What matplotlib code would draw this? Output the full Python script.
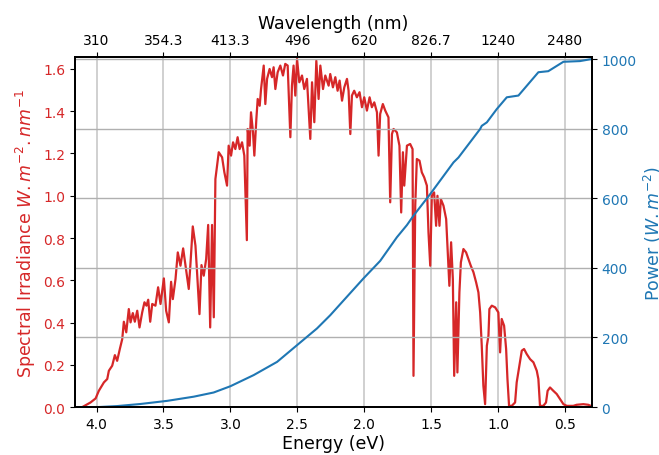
import numpy as np
import matplotlib
matplotlib.use('Agg')
import matplotlib.pyplot as plt

# spectrum (energy in eV, irradiance in W/m2/nm)
energy_ev = [4.160, 4.107, 4.045, 4.007, 3.983, 3.945, 3.920, 3.908, 3.883, 3.863,
             3.846, 3.826, 3.808, 3.796, 3.778, 3.759, 3.746, 3.729, 3.714, 3.696,
             3.679, 3.659, 3.642, 3.627, 3.614, 3.599, 3.584, 3.560, 3.540, 3.522,
             3.497, 3.480, 3.460, 3.443, 3.430, 3.410, 3.393, 3.373, 3.353, 3.336,
             3.311, 3.299, 3.281, 3.261, 3.249, 3.231, 3.216, 3.199, 3.181, 3.166,
             3.151, 3.137, 3.124, 3.112, 3.087, 3.062, 3.045, 3.025, 3.013, 2.995,
             2.980, 2.963, 2.946, 2.931, 2.913, 2.896, 2.877, 2.871, 2.856, 2.846,
             2.831, 2.821, 2.806, 2.796, 2.781, 2.771, 2.751, 2.739, 2.726, 2.707,
             2.689, 2.677, 2.664, 2.647, 2.627, 2.607, 2.590, 2.572, 2.552, 2.540,
             2.528, 2.515, 2.502, 2.485, 2.465, 2.448, 2.428, 2.403, 2.390, 2.373,
             2.358, 2.341, 2.328, 2.308, 2.291, 2.266, 2.254, 2.234, 2.216, 2.199,
             2.184, 2.166, 2.149, 2.129, 2.117, 2.104, 2.092, 2.075, 2.055, 2.035,
             2.017, 2.000, 1.980, 1.960, 1.943, 1.925, 1.905, 1.893, 1.881, 1.861,
             1.843, 1.819, 1.806, 1.793, 1.781, 1.756, 1.737, 1.724, 1.711, 1.701,
             1.681, 1.657, 1.639, 1.632, 1.619, 1.607, 1.587, 1.570, 1.552, 1.532,
             1.520, 1.507, 1.495, 1.478, 1.463, 1.453, 1.438, 1.428, 1.408, 1.388,
             1.376, 1.364, 1.351, 1.338, 1.328, 1.313, 1.304, 1.289, 1.278, 1.259,
             1.239, 1.222, 1.204, 1.184, 1.164, 1.147, 1.134, 1.122, 1.110, 1.097,
             1.084, 1.072, 1.065, 1.047, 1.022, 0.998, 0.985, 0.973, 0.955, 0.940,
             0.930, 0.918, 0.898, 0.873, 0.861, 0.841, 0.823, 0.806, 0.786, 0.761,
             0.736, 0.711, 0.699, 0.687, 0.662, 0.642, 0.630, 0.612, 0.587, 0.562,
             0.537, 0.512, 0.487, 0.438, 0.413, 0.363, 0.326, 0.308]
irradiance = [0.000, 0.000, 0.022, 0.041, 0.077, 0.117, 0.133, 0.172, 0.196, 0.246,
              0.219, 0.275, 0.322, 0.404, 0.354, 0.464, 0.401, 0.445, 0.404, 0.456,
              0.377, 0.448, 0.496, 0.480, 0.508, 0.404, 0.488, 0.480, 0.567, 0.488,
              0.609, 0.456, 0.401, 0.593, 0.511, 0.606, 0.732, 0.669, 0.751, 0.672,
              0.559, 0.672, 0.855, 0.764, 0.638, 0.440, 0.672, 0.622, 0.701, 0.862,
              0.377, 0.862, 0.425, 1.079, 1.206, 1.182, 1.111, 1.048, 1.237, 1.190,
              1.253, 1.221, 1.277, 1.221, 1.253, 1.190, 0.790, 1.316, 1.237, 1.395,
              1.300, 1.190, 1.363, 1.458, 1.426, 1.505, 1.616, 1.434, 1.553, 1.600,
              1.561, 1.608, 1.505, 1.584, 1.616, 1.569, 1.624, 1.616, 1.277, 1.521,
              1.616, 1.474, 1.647, 1.537, 1.569, 1.505, 1.553, 1.269, 1.537, 1.348,
              1.639, 1.458, 1.616, 1.505, 1.569, 1.521, 1.576, 1.513, 1.561, 1.497,
              1.545, 1.450, 1.513, 1.553, 1.497, 1.292, 1.474, 1.497, 1.466, 1.490,
              1.419, 1.466, 1.403, 1.466, 1.419, 1.442, 1.395, 1.190, 1.387, 1.434,
              1.403, 1.371, 0.969, 1.292, 1.316, 1.300, 1.237, 0.921, 1.206, 1.048,
              1.237, 1.245, 1.221, 0.148, 0.953, 1.174, 1.166, 1.111, 1.087, 1.048,
              0.827, 0.669, 1.000, 1.016, 0.858, 1.000, 0.858, 0.985, 0.953, 0.890,
              0.732, 0.574, 0.780, 0.606, 0.148, 0.496, 0.164, 0.543, 0.685, 0.748,
              0.732, 0.701, 0.669, 0.638, 0.590, 0.543, 0.448, 0.290, 0.101, 0.014,
              0.290, 0.338, 0.464, 0.480, 0.472, 0.448, 0.259, 0.417, 0.385, 0.275,
              0.133, 0.006, 0.006, 0.022, 0.117, 0.196, 0.267, 0.275, 0.251, 0.227,
              0.212, 0.172, 0.133, 0.006, 0.006, 0.022, 0.077, 0.093, 0.077, 0.062,
              0.038, 0.014, 0.006, 0.006, 0.011, 0.014, 0.011, 0.006]

# cumulative power (W/m2)
power_ev = [4.157, 3.995, 3.846, 3.672, 3.472, 3.274, 3.125, 3.000, 2.826, 2.651,
            2.502, 2.353, 2.254, 2.005, 1.881, 1.756, 1.681, 1.632, 1.507, 1.333,
            1.296, 1.134, 1.122, 1.084, 1.010, 0.935, 0.848, 0.699, 0.625, 0.512,
            0.388, 0.300]
power = [0, 0, 3, 9, 18, 30, 42, 60, 92, 130,
         178, 226, 264, 370, 420, 488, 523, 550, 612, 703,
         717, 799, 808, 818, 856, 890, 895, 962, 965, 992,
         994, 1000]

tick_ev = [4.0, 3.5, 3.0, 2.5, 2.0, 1.5, 1.0, 0.5]
tick_nm = ['310', '354.3', '413.3', '496', '620', '826.7', '1240', '2480']

red = 'tab:red'
blue = 'tab:blue'

fig = plt.figure(figsize=(6.59, 4.56), dpi=100)
ax1 = fig.add_subplot(111)
fig.subplots_adjust(left=0.114, right=0.898, bottom=0.105, top=0.873)

ax1.plot(energy_ev, irradiance, color=red, lw=1.6)
ax1.set_xlim(4.16, 0.30)
ax1.set_ylim(0, 1.657)
ax1.set_xticks(tick_ev)
ax1.set_xlabel('Energy (eV)', fontsize=12.5, labelpad=2)
ax1.set_ylabel(r'Spectral Irradiance $W.m^{-2}.nm^{-1}$', color=red, fontsize=12.5)
ax1.tick_params(axis='y', labelcolor=red, labelsize=10)
ax1.tick_params(axis='x', labelsize=10)
ax1.grid(axis='x', color='#c8c8c8', lw=1.2)

ax2 = ax1.twinx()
ax2.plot(power_ev, power, color=blue, lw=1.5)
ax2.set_ylim(0, 1006)
ax2.set_yticks([0, 200, 400, 600, 800, 1000])
ax2.set_ylabel(r'Power ($W.m^{-2}$)', color=blue, fontsize=12.5)
ax2.tick_params(axis='y', labelcolor=blue, labelsize=10)
ax2.grid(axis='y', color='#b0b0b0', lw=1.0)

ax3 = ax1.twiny()
ax3.set_xlim(ax1.get_xlim())
ax3.set_xticks(tick_ev)
ax3.set_xticklabels(tick_nm)
ax3.tick_params(axis='x', labelsize=10)
ax3.set_xlabel('Wavelength (nm)', fontsize=12.5, labelpad=4)

for ax in (ax1, ax2, ax3):
    for s in ax.spines.values():
        s.set_linewidth(1.2)

plt.savefig('out.png', dpi=100)
